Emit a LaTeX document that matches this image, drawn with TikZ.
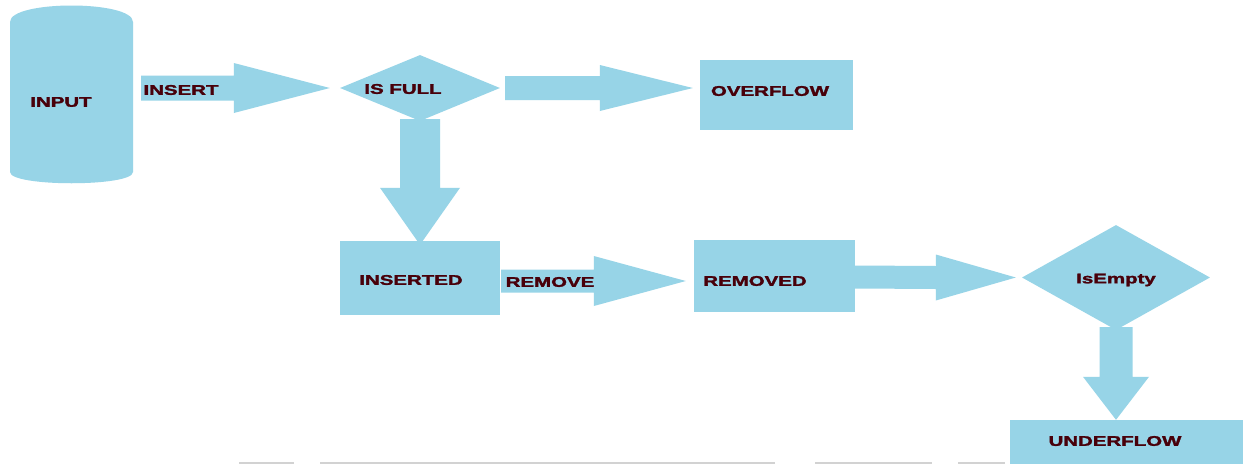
\documentclass[tikz,border=0pt]{standalone}
\usepackage{fontspec}
\setmainfont{Liberation Sans}
\newfontfamily\heavy{Liberation Sans}[BoldFeatures={FakeBold=1.6}]
\usetikzlibrary{shapes.geometric,calc}
\definecolor{blk}{HTML}{97D4E7}
\definecolor{txt}{RGB}{72,0,10}
\definecolor{faint}{HTML}{D2D2D2}
\newcommand{\wide}[1]{\scalebox{1.46}[1]{\heavy\bfseries #1}}
% block arrow: start, tip, head length, shaft half, head half (horizontal)
\newcommand{\harrow}[5]{%
  \fill[blk] ($(#1)+(0,-#4)$) -- ($(#2)+(-#3,-#4)$) -- ($(#2)+(-#3,-#5)$) -- (#2)
    -- ($(#2)+(-#3,#5)$) -- ($(#2)+(-#3,#4)$) -- ($(#1)+(0,#4)$) -- cycle;}
\newcommand{\varrow}[5]{%
  \fill[blk] ($(#1)+(-#4,0)$) -- ($(#2)+(-#4,-#3)$) -- ($(#2)+(-#5,-#3)$) -- (#2)
    -- ($(#2)+(#5,-#3)$) -- ($(#2)+(#4,-#3)$) -- ($(#1)+(#4,0)$) -- cycle;}
\begin{document}
\begin{tikzpicture}[x=1pt,y=-1pt,
  lbl/.style={text=txt,font=\fontsize{14}{14}\selectfont,inner sep=0pt},
  boxnode/.style={fill=blk,rectangle,inner sep=0pt},
  dia/.style={fill=blk,diamond,inner sep=0pt},
]
\useasboundingbox (0,0) rectangle (1243,464);
\fill[white] (0,0) rectangle (1243,464);

% INPUT cylinder
\fill[blk] (10,22) .. controls (10,0) and (133,0) .. (133,22)
  -- (133,172) .. controls (133,187) and (10,187) .. (10,172) -- cycle;
\node[inner sep=0pt,minimum width=123pt,minimum height=160pt] (input) at (71.5,94) {};
\node[lbl] (inputT) at (61,102) {\wide{INPUT}};

% diamonds and boxes
\node[dia,minimum width=160pt,minimum height=66pt] (isfull) at (420,88) {};
\node[lbl] (isfullT) at (403,89) {\wide{IS FULL}};

\node[boxnode,minimum width=153pt,minimum height=70pt] (overflow) at (776.5,95) {};
\node[lbl] (overflowT) at (770,91) {\wide{OVERFLOW}};

\node[boxnode,minimum width=160pt,minimum height=74pt] (inserted) at (420,278) {};
\node[lbl] (insertedT) at (411,280) {\wide{INSERTED}};

\node[boxnode,minimum width=161pt,minimum height=72pt] (removed) at (774.5,276) {};
\node[lbl] (removedT) at (755,281) {\wide{REMOVED}};

\node[dia,minimum width=188pt,minimum height=105pt] (isempty) at (1116,277.5) {};
\node[lbl] (isemptyT) at (1116,280) {\wide{IsEmpty}};

\node[boxnode,minimum width=236pt,minimum height=44pt] (underflow) at (1128,442) {};
\node[lbl] (underflowT) at (1115,441) {\wide{UNDERFLOW}};

% block arrows
\coordinate (a1s) at ([xshift=8pt]input.east |- isfull.west);
\coordinate (a1e) at ([xshift=-10pt]isfull.west);
\harrow{a1s}{a1e}{96}{12.5}{25}
\node[lbl] (insertT) at (181,90) {\wide{INSERT}};

\coordinate (a2s) at ([xshift=5pt]isfull.east);
\coordinate (a2e) at ([xshift=-7pt]overflow.west |- isfull.east);
\harrow{a2s}{a2e}{93}{12}{23}

\coordinate (a3s) at ([yshift=2pt]isfull.south);
\coordinate (a3e) at ([yshift=-4pt]inserted.north);
\varrow{a3s}{a3e}{57}{20}{40}

\coordinate (a4s) at ([xshift=1pt]inserted.east |- 0,281);
\coordinate (a4e) at ([xshift=-8pt]removed.west |- 0,281);
\harrow{a4s}{a4e}{92}{11.5}{25}
\node[lbl] (removeT) at (550,282) {\wide{REMOVE}};

\coordinate (a5s) at (removed.east |- 0,277);
\coordinate (a5e) at ([xshift=-6pt]isempty.west);
\harrow{a5s}{a5e}{80}{11.5}{23}

\coordinate (a6s) at ([yshift=3pt]isempty.south);
\coordinate (a6e) at (isempty.south |- underflow.north);
\varrow{a6s}{a6e}{43}{16.5}{33}

% faint line at bottom
\draw[faint,line width=1.5pt] (239,463) -- (294,463);
\draw[faint,line width=1.5pt] (320,463) -- (775,463);
\draw[faint,line width=1.5pt] (815,463) -- (932,463);
\draw[faint,line width=1.5pt] (958,463) -- (1005,463);
\end{tikzpicture}
\end{document}
